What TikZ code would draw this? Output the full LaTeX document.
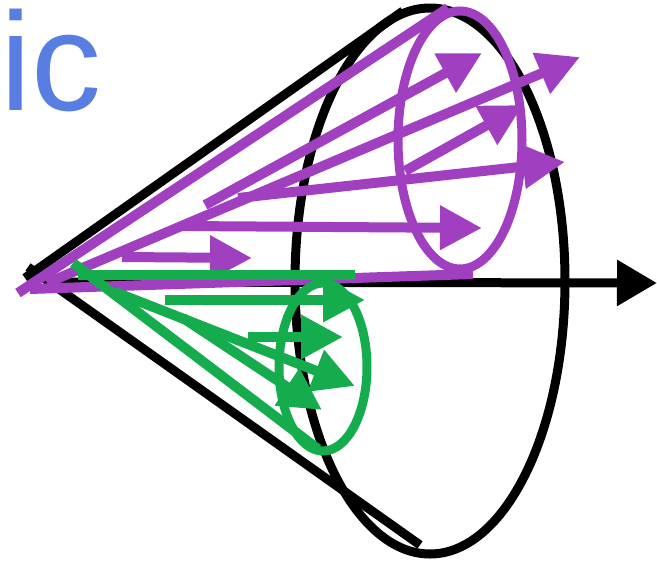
\documentclass[tikz,border=0pt]{standalone}
\usepackage{fontspec}
\setmainfont{Liberation Sans}
\usetikzlibrary{arrows.meta}
\definecolor{conepurple}{RGB}{160,64,192}
\definecolor{conegreen}{RGB}{20,172,76}
\definecolor{labelblue}{RGB}{87,126,224}
\begin{document}
\begin{tikzpicture}[x=1pt,y=-1pt,
  blackline/.style={line width=9pt,black},
  rim/.style={line width=9pt},
  vec/.style={line width=10pt,-{Triangle[length=42pt,width=42pt]}},
  side/.style={line width=10pt}]
\useasboundingbox (0,0) rectangle (657,563);

% label
\node[anchor=base west,inner sep=0pt,text=labelblue,
      font=\fontsize{140}{140}\selectfont] (lbl) at (0,110) {ic};

% ---- black cone with axis ----
\coordinate (bUa) at (25,278);  \coordinate (bUb) at (403,11);
\coordinate (bLa) at (28,267);  \coordinate (bLb) at (420,545);
\coordinate (axA) at (45,282);  \coordinate (axB) at (657,283);
\coordinate (bC) at (430,281);
\draw[rim] (bC) ellipse [x radius=135pt,y radius=273pt];
\draw[blackline] (bUa) -- (bUb);
\draw[blackline] (bLa) -- (bLb);
\draw[line width=9pt,-{Triangle[length=40pt,width=44pt]}] (axA) -- (axB);

% ---- purple cone ----
\begin{scope}[draw=conepurple,color=conepurple]
\coordinate (pC) at (460,140);
\draw[rim] (pC) ellipse [x radius=62pt,y radius=129pt];
\coordinate (pTa) at (18,293);  \coordinate (pTb) at (448,8);
\coordinate (pBa) at (30,289);  \coordinate (pBb) at (473,274);
\draw[side] (pTa) -- (pTb);
\draw[side] (pBa) -- (pBb);
\coordinate (pa0) at (205,205); \coordinate (pa1) at (482,53);
\coordinate (pb0) at (47,283);  \coordinate (pb1) at (580,57);
\coordinate (pc0) at (405,171); \coordinate (pc1) at (523,105);
\coordinate (pd0) at (238,198); \coordinate (pd1) at (565,162);
\coordinate (pe0) at (182,226); \coordinate (pe1) at (482,228);
\coordinate (pf0) at (122,257); \coordinate (pf1) at (252,258);
\draw[vec] (pa0) -- (pa1);
\draw[vec] (pb0) -- (pb1);
\draw[vec] (pc0) -- (pc1);
\draw[vec] (pd0) -- (pd1);
\draw[vec] (pe0) -- (pe1);
\draw[vec] (pf0) -- (pf1);
\end{scope}

% ---- green cone ----
\begin{scope}[draw=conegreen,color=conegreen]
\coordinate (gC) at (323,367);
\draw[rim] (gC) ellipse [x radius=44pt,y radius=84pt];
\coordinate (gTa) at (78,275);  \coordinate (gTb) at (355,275);
\coordinate (gBa) at (73,263);  \coordinate (gBb) at (318,449);
\draw[side] (gTa) -- (gTb);
\draw[side] (gBa) -- (gBb);
\coordinate (gg0) at (165,300); \coordinate (gg1) at (365,300);
\coordinate (gh0) at (248,337); \coordinate (gh1) at (343,337);
\coordinate (gi0) at (115,292); \coordinate (gi1) at (355,386);
\coordinate (gj0) at (183,318); \coordinate (gj1) at (322,410);
\draw[vec] (gg0) -- (gg1);
\draw[vec] (gh0) -- (gh1);
\draw[vec] (gi0) -- (gi1);
\draw[vec] (gj0) -- (gj1);
\end{scope}
\end{tikzpicture}
\end{document}
